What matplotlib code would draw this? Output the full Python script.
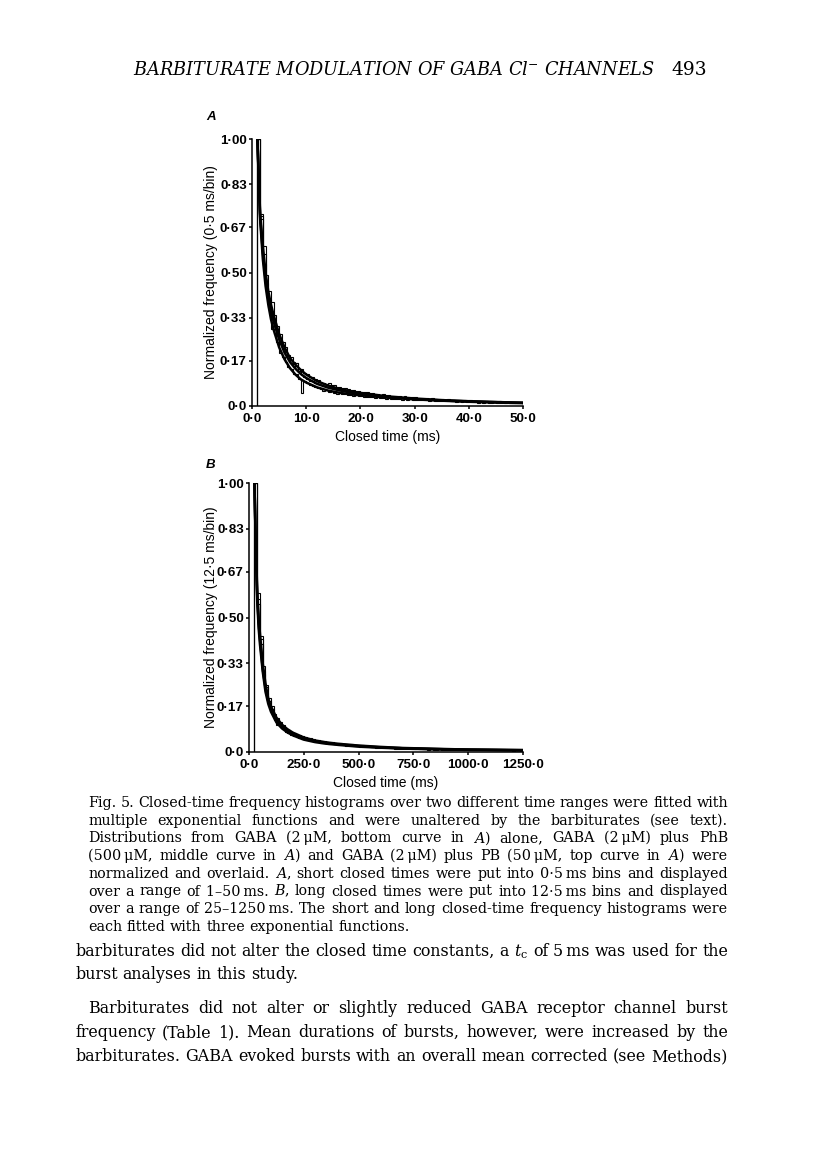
import matplotlib
matplotlib.use('Agg')
import matplotlib.pyplot as plt
import numpy as np

plt.rcParams['mathtext.fontset'] = 'dejavuserif'

# ---------------- data ----------------
# Panel A: 0.5 ms bins from 1 to 50 ms
binA_start, binA_width, binA_end = 1.0, 0.5, 50.0
histA_gaba = [1.00, 0.70, 0.53, 0.43, 0.37, 0.29, 0.27, 0.24, 0.20, 0.185,
              0.165, 0.145, 0.14, 0.12, 0.118, 0.10, 0.05, 0.095, 0.088, 0.078,
              0.075, 0.07, 0.066, 0.062, 0.058, 0.06, 0.052, 0.055, 0.048, 0.046,
              0.047, 0.044, 0.045, 0.041, 0.043, 0.039, 0.040, 0.037, 0.038, 0.035,
              0.035, 0.033, 0.034, 0.031, 0.032, 0.030, 0.031, 0.028, 0.030, 0.027,
              0.028, 0.026, 0.027, 0.024, 0.026, 0.023, 0.025, 0.024, 0.022, 0.023,
              0.022, 0.021, 0.023, 0.019, 0.021, 0.020, 0.018, 0.020, 0.019, 0.018,
              0.019, 0.017, 0.018, 0.016, 0.017, 0.015, 0.017, 0.016, 0.014, 0.016,
              0.015, 0.013, 0.014, 0.012, 0.015, 0.013, 0.012, 0.014, 0.013, 0.011,
              0.013, 0.012, 0.011, 0.013, 0.012, 0.010, 0.012, 0.011]
histA_phb = [1.00, 0.71, 0.57, 0.46, 0.40, 0.35, 0.31, 0.27, 0.24, 0.215,
             0.19, 0.18, 0.16, 0.145, 0.16, 0.13, 0.115, 0.11, 0.10, 0.095,
             0.092, 0.085, 0.084, 0.077, 0.076, 0.07, 0.072, 0.066, 0.067, 0.062,
             0.061, 0.058, 0.057, 0.054, 0.055, 0.051, 0.050, 0.048, 0.049, 0.045,
             0.044, 0.043, 0.040, 0.041, 0.038, 0.039, 0.037, 0.036, 0.037, 0.034,
             0.034, 0.033, 0.031, 0.032, 0.030, 0.029, 0.030, 0.028, 0.027, 0.028,
             0.027, 0.026, 0.025, 0.026, 0.024, 0.023, 0.024, 0.022, 0.023, 0.021,
             0.022, 0.020, 0.021, 0.019, 0.020, 0.018, 0.019, 0.017, 0.018, 0.019,
             0.017, 0.016, 0.018, 0.015, 0.016, 0.014, 0.015, 0.016, 0.014, 0.015,
             0.014, 0.013, 0.015, 0.012, 0.013, 0.014, 0.012, 0.013]
histA_pb = [1.00, 0.72, 0.60, 0.49, 0.43, 0.39, 0.34, 0.30, 0.27, 0.24,
            0.22, 0.19, 0.185, 0.165, 0.16, 0.14, 0.14, 0.125, 0.12, 0.11,
            0.107, 0.10, 0.097, 0.091, 0.088, 0.083, 0.085, 0.078, 0.077, 0.073,
            0.071, 0.068, 0.066, 0.064, 0.060, 0.061, 0.057, 0.056, 0.054, 0.052,
            0.051, 0.048, 0.049, 0.045, 0.046, 0.043, 0.044, 0.041, 0.042, 0.039,
            0.039, 0.037, 0.038, 0.035, 0.036, 0.033, 0.034, 0.032, 0.033, 0.030,
            0.031, 0.029, 0.030, 0.028, 0.029, 0.026, 0.027, 0.025, 0.026, 0.024,
            0.025, 0.023, 0.024, 0.022, 0.023, 0.021, 0.022, 0.020, 0.021, 0.019,
            0.020, 0.018, 0.019, 0.017, 0.018, 0.016, 0.017, 0.019, 0.016, 0.017,
            0.016, 0.015, 0.014, 0.016, 0.015, 0.013, 0.014, 0.015]
fitA_t = [1, 1.25, 1.5, 2, 2.5, 3, 3.5, 4, 5, 6, 7, 8, 9, 10, 12, 14, 16, 18, 20, 25, 30, 35, 40, 45, 50]
fitA_gaba = [1.0, 0.84, 0.70, 0.55, 0.45, 0.38, 0.325, 0.285, 0.22, 0.175, 0.142, 0.118, 0.10, 0.088,
             0.07, 0.058, 0.05, 0.044, 0.04, 0.031, 0.025, 0.02, 0.016, 0.013, 0.011]
fitA_phb = [1.0, 0.85, 0.71, 0.575, 0.475, 0.405, 0.355, 0.315, 0.25, 0.20, 0.165, 0.14, 0.12, 0.105,
            0.083, 0.069, 0.059, 0.051, 0.045, 0.034, 0.026, 0.021, 0.017, 0.014, 0.012]
fitA_pb = [1.0, 0.86, 0.72, 0.60, 0.50, 0.43, 0.38, 0.34, 0.27, 0.22, 0.18, 0.155, 0.135, 0.118,
           0.093, 0.077, 0.065, 0.056, 0.049, 0.036, 0.028, 0.022, 0.018, 0.015, 0.012]

# Panel B: 12.5 ms bins from 25 to 1250 ms
binB_start, binB_width, binB_end = 25.0, 12.5, 1250.0
histB_gaba = [1.00, 0.55, 0.40, 0.29, 0.22, 0.17, 0.15, 0.12, 0.10, 0.095,
              0.085, 0.075, 0.072, 0.064, 0.06, 0.055, 0.053, 0.048, 0.047, 0.044,
              0.043, 0.040, 0.039, 0.036, 0.035, 0.033, 0.032, 0.030, 0.029, 0.028,
              0.027, 0.026, 0.025, 0.024, 0.023, 0.022, 0.021, 0.021, 0.020, 0.019,
              0.018, 0.019, 0.017, 0.017, 0.016, 0.016, 0.015, 0.015, 0.014, 0.014,
              0.014, 0.013, 0.013, 0.012, 0.012, 0.012, 0.011, 0.011, 0.011, 0.010,
              0.010, 0.011, 0.010, 0.009, 0.010, 0.009, 0.009, 0.010, 0.008, 0.009,
              0.009, 0.008, 0.009, 0.008, 0.008, 0.009, 0.007, 0.008, 0.008, 0.007,
              0.007, 0.008, 0.007, 0.007, 0.006, 0.007, 0.007, 0.006, 0.007, 0.006,
              0.006, 0.007, 0.006, 0.006, 0.005, 0.006, 0.006, 0.005]
histB_phb = [1.00, 0.57, 0.42, 0.30, 0.24, 0.19, 0.16, 0.13, 0.115, 0.10,
             0.092, 0.082, 0.078, 0.069, 0.067, 0.061, 0.059, 0.054, 0.053, 0.048,
             0.047, 0.046, 0.042, 0.041, 0.040, 0.036, 0.037, 0.034, 0.033, 0.032,
             0.031, 0.029, 0.029, 0.027, 0.026, 0.026, 0.024, 0.025, 0.023, 0.022,
             0.021, 0.022, 0.020, 0.019, 0.020, 0.018, 0.018, 0.017, 0.018, 0.016,
             0.016, 0.015, 0.016, 0.015, 0.014, 0.014, 0.015, 0.013, 0.013, 0.014,
             0.012, 0.013, 0.012, 0.012, 0.011, 0.012, 0.011, 0.012, 0.011, 0.010,
             0.011, 0.010, 0.010, 0.011, 0.009, 0.010, 0.009, 0.010, 0.009, 0.009,
             0.009, 0.008, 0.009, 0.008, 0.009, 0.008, 0.008, 0.007, 0.008, 0.008,
             0.007, 0.008, 0.007, 0.007, 0.008, 0.006, 0.007, 0.007]
histB_pb = [1.00, 0.59, 0.43, 0.32, 0.25, 0.20, 0.17, 0.14, 0.125, 0.11,
            0.10, 0.09, 0.083, 0.075, 0.072, 0.066, 0.063, 0.059, 0.056, 0.053,
            0.051, 0.049, 0.046, 0.045, 0.042, 0.041, 0.039, 0.038, 0.036, 0.035,
            0.034, 0.032, 0.031, 0.030, 0.029, 0.028, 0.027, 0.026, 0.025, 0.025,
            0.024, 0.023, 0.022, 0.022, 0.021, 0.020, 0.020, 0.019, 0.019, 0.018,
            0.018, 0.017, 0.017, 0.016, 0.016, 0.015, 0.015, 0.015, 0.014, 0.014,
            0.014, 0.013, 0.013, 0.012, 0.013, 0.012, 0.012, 0.011, 0.012, 0.011,
            0.011, 0.011, 0.010, 0.011, 0.010, 0.010, 0.009, 0.010, 0.009, 0.009,
            0.009, 0.009, 0.008, 0.009, 0.008, 0.008, 0.008, 0.007, 0.008, 0.007,
            0.007, 0.007, 0.008, 0.007, 0.006, 0.007, 0.007, 0.006]
fitB_t = [25, 31, 37.5, 44, 50, 62.5, 75, 87.5, 100, 125, 150, 175, 200, 250, 300, 350, 400,
          500, 600, 700, 800, 900, 1000, 1125, 1250]
fitB_gaba = [1.0, 0.75, 0.56, 0.46, 0.40, 0.30, 0.225, 0.18, 0.15, 0.11, 0.088, 0.073, 0.062, 0.046,
             0.037, 0.031, 0.027, 0.020, 0.016, 0.013, 0.011, 0.009, 0.008, 0.007, 0.006]
fitB_phb = [1.0, 0.76, 0.58, 0.48, 0.42, 0.31, 0.24, 0.19, 0.16, 0.12, 0.095, 0.079, 0.067, 0.050,
            0.040, 0.034, 0.029, 0.022, 0.017, 0.014, 0.012, 0.010, 0.009, 0.008, 0.007]
fitB_pb = [1.0, 0.77, 0.60, 0.50, 0.44, 0.33, 0.255, 0.20, 0.17, 0.128, 0.102, 0.085, 0.072, 0.054,
           0.043, 0.036, 0.031, 0.024, 0.019, 0.015, 0.013, 0.011, 0.009, 0.008, 0.007]

y_ticks = [0.0, 0.17, 0.33, 0.50, 0.67, 0.83, 1.00]
y_ticklabels = ["0·0", "0·17", "0·33", "0·50", "0·67", "0·83", "1·00"]
xA_ticks = [0, 10, 20, 30, 40, 50]
xA_ticklabels = ["0·0", "10·0", "20·0", "30·0", "40·0", "50·0"]
xB_ticks = [0, 250, 500, 750, 1000, 1250]
xB_ticklabels = ["0·0", "250·0", "500·0", "750·0", "1000·0", "1250·0"]

header = "BARBITURATE MODULATION OF GABA Cl$^{-}$ CHANNELS"
page_no = "493"
caption = [
    "Fig. 5. Closed-time frequency histograms over two different time ranges were fitted with",
    "multiple exponential functions and were unaltered by the barbiturates (see text).",
    "Distributions from GABA (2\u2009μM, bottom curve in $\\mathit{A}$) alone, GABA (2\u2009μM) plus PhB",
    "(500\u2009μM, middle curve in $\\mathit{A}$) and GABA (2\u2009μM) plus PB (50\u2009μM, top curve in $\\mathit{A}$) were",
    "normalized and overlaid. $\\mathit{A}$, short closed times were put into 0·5\u2009ms bins and displayed",
    "over a range of 1–50\u2009ms. $\\mathit{B}$, long closed times were put into 12·5\u2009ms bins and displayed",
    "over a range of 25–1250\u2009ms. The short and long closed-time frequency histograms were",
    "each fitted with three exponential functions.",
]
body = [
    ("barbiturates did not alter the closed time constants, a $t_{\\mathrm{c}}$ of 5\u2009ms was used for the", 75, True),
    ("burst analyses in this study.", 75, False),
    ("Barbiturates did not alter or slightly reduced GABA receptor channel burst", 88, True),
    ("frequency (Table 1). Mean durations of bursts, however, were increased by the", 75, True),
    ("barbiturates. GABA evoked bursts with an overall mean corrected (see Methods)", 75, True),
]

# ---------------- figure ----------------
W, H = 816, 1170
fig = plt.figure(figsize=(W / 100, H / 100), dpi=100)
fig.patch.set_facecolor('white')
SANS = 'Liberation Sans'


def rect(l, t, r, b):
    return [l / W, 1 - b / H, (r - l) / W, (b - t) / H]


def style_axes(ax, xticks, xlabels, xmax, ylabel, x_left, x_right, y_top, y_bot):
    ax.set_xlim(0, xmax)
    ax.set_ylim(0, 1.0)
    for s in ('top', 'right'):
        ax.spines[s].set_visible(False)
    for s in ('left', 'bottom'):
        ax.spines[s].set_linewidth(1.1)
    ax.set_xticks(xticks)
    ax.set_xticklabels(xlabels, fontsize=9.6, fontweight='bold', family=SANS)
    ax.set_yticks(y_ticks)
    ax.set_yticklabels(y_ticklabels, fontsize=9.6, fontweight='bold', family=SANS)
    ax.tick_params(axis='y', direction='out', length=2.5, width=1.1, pad=1.2)
    ax.tick_params(axis='x', direction='out', length=2.5, width=1.1, pad=2.5)
    ax.set_xlabel("Closed time (ms)", fontsize=10, family=SANS, va='center')
    ax.xaxis.set_label_coords(0.5, -31 / (y_bot - y_top))
    ax.set_ylabel(ylabel, fontsize=10, family=SANS, va='center')
    ax.yaxis.set_label_coords((211 - x_left) / (x_right - x_left), 0.5)


axA = fig.add_axes(rect(252, 139, 523, 406))
edgesA = np.arange(binA_start, binA_end + 1e-9, binA_width)
for h in (histA_gaba, histA_phb, histA_pb):
    axA.stairs(h, edgesA, color='black', lw=0.8, baseline=0)
for f in (fitA_gaba, fitA_phb, fitA_pb):
    axA.plot(fitA_t, f, color='black', lw=1.8, solid_joinstyle='round')
style_axes(axA, xA_ticks, xA_ticklabels, 50, "Normalized frequency (0·5 ms/bin)", 252, 523, 139, 406)

axB = fig.add_axes(rect(249, 483, 523, 752))
edgesB = np.arange(binB_start, binB_end + 1e-9, binB_width)
for h in (histB_gaba, histB_phb, histB_pb):
    axB.stairs(h, edgesB, color='black', lw=0.8, baseline=0)
for f in (fitB_gaba, fitB_phb, fitB_pb):
    axB.plot(fitB_t, f, color='black', lw=1.8, solid_joinstyle='round')
style_axes(axB, xB_ticks, xB_ticklabels, 1250, "Normalized frequency (12·5 ms/bin)", 249, 523, 483, 752)

fig.text(206 / W, 1 - 117 / H, "A", fontsize=9.5, fontweight='bold', style='italic',
         family=SANS, va='center', ha='left')
fig.text(206 / W, 1 - 465 / H, "B", fontsize=9.5, fontweight='bold', style='italic',
         family=SANS, va='center', ha='left')

# ---------------- page text ----------------
renderer = fig.canvas.get_renderer()


def text_width(s, **kw):
    t = fig.text(0, 0, s, **kw)
    w = t.get_window_extent(renderer).width
    t.remove()
    return w


def fit_size(lines, base, **kw):
    ratios = []
    for line, x0, x1 in lines:
        ratios.append((x1 - x0) / text_width(line, fontsize=base, **kw))
    return base * float(np.median(ratios)) * 0.985


def draw_line(line, x0, x1, ybase, justify, **kw):
    words = line.split(' ')
    widths = [text_width(w, **kw) for w in words]
    if justify and len(words) > 1:
        gap = (x1 - x0 - sum(widths)) / (len(words) - 1)
    else:
        gap = text_width('a a', **kw) - text_width('aa', **kw)
    x = x0
    for w, wd in zip(words, widths):
        fig.text(x / W, 1 - ybase / H, w, ha='left', va='baseline', **kw)
        x += wd + gap


# header
hk = dict(family='DejaVu Serif', style='italic')
w12 = text_width(header, fontsize=12, **hk)
hsize = 12 * (655 - 133) / w12
fig.text(133 / W, 1 - 75 / H, header, fontsize=hsize, ha='left', va='baseline', **hk)
fig.text(707 / W, 1 - 75 / H, page_no, fontsize=hsize * 1.05, ha='right', va='baseline',
         family='DejaVu Serif')

# caption
cap_size = fit_size([(l, 88, 728) for l in caption[:-1]], 10, family='DejaVu Serif')
ck = dict(family='DejaVu Serif', fontsize=cap_size)
for i, line in enumerate(caption):
    yb = 803 + 17.7 * i + 4
    draw_line(line, 88, 728, yb, i < len(caption) - 1, **ck)

# body
body_size = fit_size([(l, x0, 728) for l, x0, j in body if j], 11, family='DejaVu Serif')
bk = dict(family='DejaVu Serif', fontsize=body_size)
body_y = [951, 974, 1008, 1032, 1056]
for (line, x0, just), yc in zip(body, body_y):
    draw_line(line, x0, 728, yc + 5, just, **bk)

fig.savefig('out.png', dpi=100, facecolor='white')
